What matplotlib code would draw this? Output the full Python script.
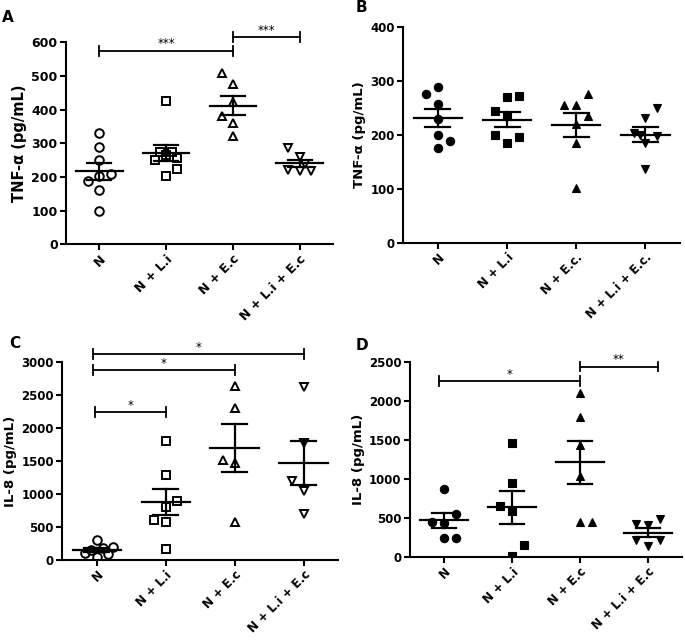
import numpy as np
import matplotlib
matplotlib.use("Agg")
import matplotlib.pyplot as plt

plt.rcParams['font.family'] = ['DejaVu Sans']
plt.rcParams['font.weight'] = 'bold'

# ---------------- data ----------------
cats_A = ["N", "N + L.i", "N + E.c", "N + L.i + E.c"]
cats_B = ["N", "N + L.i", "N + E.c.", "N + L.i + E.c."]
cats_C = ["N", "N + L.i", "N + E.c", "N + L.i + E.c"]
cats_D = ["N", "N + L.i", "N + E.c", "N + L.i + E.c"]

A_N = [330, 290, 250, 210, 203, 189, 161, 98]
A_Li = [425, 274, 274, 264, 257, 251, 223, 203]
A_Ec = [510, 477, 423, 381, 361, 321]
A_LiEc = [286, 259, 240, 222, 217, 217]

B_N = [275, 289, 257, 229, 199, 189, 175]
B_Li = [269, 272, 243, 234, 199, 195, 185]
B_Ec = [255, 255, 275, 234, 219, 185, 101]
B_LiEc = [250, 230, 203, 200, 197, 185, 137]

C_N = [300, 198, 175, 150, 112, 96, 46]
C_Li = [1812, 1289, 898, 807, 604, 579, 168]
C_Ec = [2634, 2305, 1518, 1467, 579]
C_LiEc = [2624, 1772, 1198, 1051, 695]

D_N = [873, 555, 453, 440, 250, 250]
D_Li = [1462, 949, 657, 589, 157, 8]
D_Ec = [2106, 1801, 1436, 1034, 453, 453]
D_LiEc = [483, 419, 411, 212, 212, 136]

# significance annotations: (start group, end group, height, label)
sig_A = [(0, 2, 575, "***"), (2, 3, 615, "***")]
sig_B = []
sig_C = [(-0.05, 3, 3120, "*"), (-0.05, 2, 2880, "*"), (-0.02, 1, 2240, "*")]
sig_D = [(-0.07, 2, 2258, "*"), (2, 3.14, 2445, "**")]

# ---------------- layout (jitter of points within a column) ----------------
j = 0.17
off_A = [[0, 0, 0, j, 0, -j, 0, 0],
         [0, -j/2, j/2, 0, j, -j, j, 0],
         [-j, 0, 0, -j, 0, 0],
         [-j, 0, j/2, -j, 0, j]]
off_B = [[-j, 0, 0, 0, 0, j, 0],
         [0, j, -j, 0, -j, j, 0],
         [-j, 0, j, j, 0, 0, 0],
         [j, 0, -j, -j/2, j, 0, 0]]
off_C = [[0, 1.4*j, j/2, -j/2, -j, j, 0],
         [0, 0, j, 0, -j, 0, 0],
         [0, 0, -j, 0, 0],
         [0, 0, -j, 0, 0]]
off_D = [[0, j, -j, 0, 0, j],
         [0, 0, -j, 0, j, 0],
         [0, 0, 0, 0, 0, j],
         [j, -j, 0, -j, j, 0]]

fig = plt.figure(figsize=(6.85, 6.4), dpi=100)

def panel(rect, groups, offs, cats, ymax, ystep, ylabel, filled, letter, sigs,
          fs_tick, fs_xt, fs_lab, letter_pos):
    ax = fig.add_axes(rect)
    markers = ['o', 's', '^', 'v']
    x = np.arange(len(groups))
    for i, (vals, off) in enumerate(zip(groups, offs)):
        vals = np.asarray(vals, float)
        xs = i + np.asarray(off)
        if filled:
            ax.plot(xs, vals, linestyle='none', marker=markers[i], ms=6,
                    mfc='black', mec='black', mew=0.8, zorder=3)
        else:
            ax.plot(xs, vals, linestyle='none', marker=markers[i], ms=6.2,
                    mfc='none', mec='black', mew=1.4, zorder=3)
        m = vals.mean()
        sem = vals.std(ddof=1) / np.sqrt(len(vals))
        ax.plot([i - 0.35, i + 0.35], [m, m], color='black', lw=1.6, zorder=4)
        ax.plot([i - 0.18, i + 0.18], [m + sem, m + sem], color='black', lw=1.6, zorder=4)
        ax.plot([i - 0.18, i + 0.18], [m - sem, m - sem], color='black', lw=1.6, zorder=4)
        ax.plot([i, i], [m - sem, m + sem], color='black', lw=1.6, zorder=4)
    ax.set_xlim(-0.5, 3.5)
    ax.set_ylim(0, ymax)
    ax.set_yticks(np.arange(0, ymax + 1, ystep))
    ax.set_xticks(x)
    ax.set_xticklabels(cats, rotation=45, ha='right', rotation_mode='anchor',
                       fontsize=fs_xt, fontweight='bold')
    for t in ax.get_yticklabels():
        t.set_fontsize(fs_tick)
        t.set_fontweight('bold')
    ax.set_ylabel(ylabel, fontsize=fs_lab, fontweight='bold', labelpad=3)
    for s in ['top', 'right']:
        ax.spines[s].set_visible(False)
    for s in ['left', 'bottom']:
        ax.spines[s].set_linewidth(1.5)
    ax.tick_params(axis='both', direction='out', length=4, width=1.5, pad=2)
    # significance bars
    h = ymax * 0.025
    for a, b, y, lab in sigs:
        ax.plot([a, b], [y, y], color='black', lw=1.3, clip_on=False)
        ax.plot([a, a], [y - h, y + h], color='black', lw=1.3, clip_on=False)
        ax.plot([b, b], [y - h, y + h], color='black', lw=1.3, clip_on=False)
        ax.text((a + b) / 2, y + ymax * 0.003, lab, ha='center', va='bottom',
                fontsize=8.5, fontweight='normal', clip_on=False)
    fig.text(letter_pos[0] / 685, 1 - letter_pos[1] / 640, letter, fontsize=11,
             fontweight='bold', ha='left', va='center')
    return ax

panel([66 / 685, 1 - 244.3 / 640, 267 / 685, 202 / 640],
      [A_N, A_Li, A_Ec, A_LiEc], off_A, cats_A, 600, 100,
      'TNF-α (pg/mL)', False, 'A', sig_A, 9, 9, 10.5, (2, 18))
panel([403.3 / 685, 1 - 242.7 / 640, 276.7 / 685, 216 / 640],
      [B_N, B_Li, B_Ec, B_LiEc], off_B, cats_B, 400, 100,
      'TNF-α (pg/mL)', True, 'B', sig_B, 8.5, 8.5, 9.5, (356, 8))
panel([62.3 / 685, 1 - 560 / 640, 275.7 / 685, 197.7 / 640],
      [C_N, C_Li, C_Ec, C_LiEc], off_C, cats_C, 3000, 500,
      'IL-8 (pg/mL)', False, 'C', sig_C, 8.5, 8.5, 9.5, (9, 344))
panel([410 / 685, 1 - 557 / 640, 272 / 685, 194.7 / 640],
      [D_N, D_Li, D_Ec, D_LiEc], off_D, cats_D, 2500, 500,
      'IL-8 (pg/mL)', True, 'D', sig_D, 8.5, 8.5, 9.5, (356, 345))

fig.savefig('out.png', dpi=100)
